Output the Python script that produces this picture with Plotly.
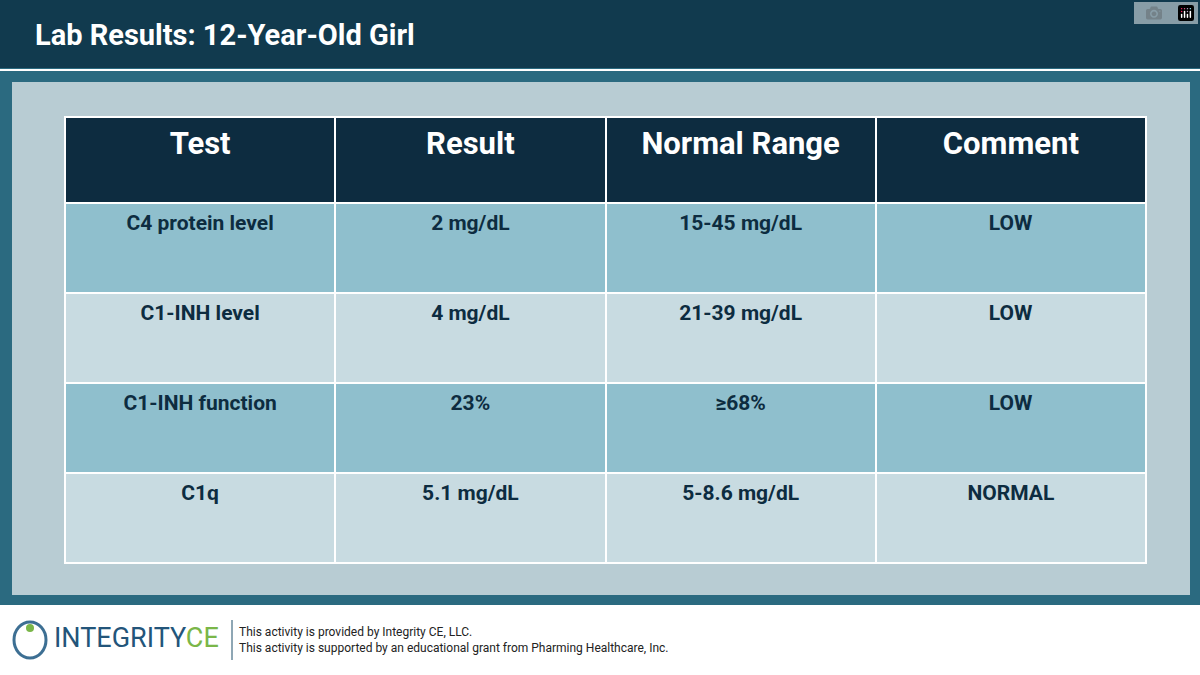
import plotly.graph_objects as go

W, H = 1200, 675

headers = ["Test", "Result", "Normal Range", "Comment"]
tests = ["C4 protein level", "C1-INH level", "C1-INH function", "C1q"]
results = ["2 mg/dL", "4 mg/dL", "23%", "5.1 mg/dL"]
ranges = ["15-45 mg/dL", "21-39 mg/dL", "≥68%", "5-8.6 mg/dL"]
comments = ["LOW", "LOW", "LOW", "NORMAL"]


def px_x(x):
    return x / W


def px_y(y):
    return 1 - y / H


def bold(items, pad=False):
    # leading line break pushes the text towards the middle of the tall cells
    return [("<br>" if pad else "") + "<b>%s</b>" % s for s in items]


row_fill = ["#8fbfcd", "#c8dbe1", "#8fbfcd", "#c8dbe1"]

fig = go.Figure(go.Table(
    domain=dict(x=[px_x(65), px_x(1146)], y=[px_y(564), px_y(117)]),
    columnwidth=[1, 1, 1, 1],
    header=dict(values=bold(headers), height=86, fill_color="#0d2c40",
                line=dict(color="white", width=2), align="center",
                font=dict(family="Roboto", size=31, color="white")),
    cells=dict(values=[bold(tests, True), bold(results, True),
                       bold(ranges, True), bold(comments, True)],
               height=90, fill_color=[row_fill] * 4,
               line=dict(color="white", width=2), align="center",
               font=dict(family="Roboto", size=21, color="#0d2c40")),
))

shapes = [
    # background
    dict(type="rect", xref="paper", yref="paper", x0=0, x1=1, y0=px_y(605), y1=1,
         fillcolor="#2b6a80", line_width=0, layer="below"),
    dict(type="rect", xref="paper", yref="paper", x0=0, x1=1, y0=px_y(68), y1=1,
         fillcolor="#113a4e", line_width=0, layer="below"),
    dict(type="line", xref="paper", yref="paper", x0=0, x1=1, y0=px_y(70), y1=px_y(70),
         line=dict(color="white", width=2)),
    dict(type="rect", xref="paper", yref="paper", x0=px_x(12), x1=px_x(1190),
         y0=px_y(595), y1=px_y(82), fillcolor="#b8ccd3", line_width=0, layer="below"),
    dict(type="rect", xref="paper", yref="paper", x0=0, x1=1, y0=0, y1=px_y(605),
         fillcolor="white", line_width=0, layer="below"),
    dict(type="line", xref="paper", yref="paper", x0=px_x(232), x1=px_x(232),
         y0=px_y(660), y1=px_y(620), line=dict(color="#1e4f6b", width=1)),
    # logo mark
    dict(type="circle", xref="paper", yref="paper", x0=px_x(14), x1=px_x(46),
         y0=px_y(658), y1=px_y(622), line=dict(color="#3d6f93", width=3)),
    dict(type="circle", xref="paper", yref="paper", x0=px_x(26), x1=px_x(34),
         y0=px_y(632), y1=px_y(624), fillcolor="#7ab648", line_width=0),
]

annotations = [
    dict(text="<b>Lab Results: 12-Year-Old Girl</b>", x=px_x(33), y=px_y(35),
         xref="paper", yref="paper", xanchor="left", yanchor="middle", showarrow=False,
         font=dict(family="Roboto", size=29, color="white")),
    dict(text="<span style='color:#23557a'>INTEGRITY</span><span style='color:#7ab648'>CE</span>",
         x=px_x(52), y=px_y(638), xref="paper", yref="paper", xanchor="left",
         yanchor="middle", showarrow=False, font=dict(family="Roboto", size=27)),
    dict(text="This activity is provided by Integrity CE, LLC.<br>"
              "This activity is supported by an educational grant from Pharming Healthcare, Inc.",
         x=px_x(237), y=px_y(640), xref="paper", yref="paper", xanchor="left",
         yanchor="middle", align="left", showarrow=False,
         font=dict(family="Roboto", size=12, color="#222222")),
]

fig.update_layout(width=W, height=H, margin=dict(l=0, r=0, t=0, b=0),
                  paper_bgcolor="white", shapes=shapes, annotations=annotations)

fig.write_html("out.html",
               post_script="document.body.style.margin='0';document.body.style.overflow='hidden';")
